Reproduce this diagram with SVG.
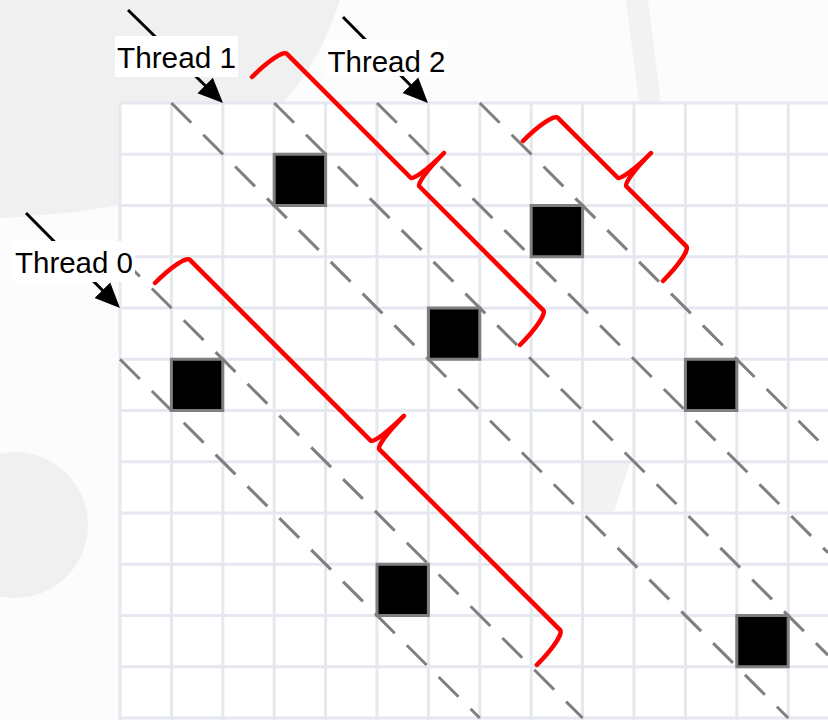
<svg xmlns="http://www.w3.org/2000/svg" width="828" height="720" viewBox="0 0 828 720">
  <style>
    .grid { stroke: #e5e8ee; stroke-width: 3; fill: none; }
    .band { stroke: #7f7f7f; stroke-width: 3; stroke-dasharray: 28 17; fill: none; }
    .sq { fill: #000000; stroke: #7f7f7f; stroke-width: 3; }
    .brace { stroke: #ff0000; stroke-width: 4.5; fill: none; stroke-linecap: round; stroke-linejoin: round; }
    .arrow { stroke: #000000; stroke-width: 3; fill: none; marker-end: url(#ah); }
    .lblbox { fill: #ffffff; }
    .lbl { font-family: "Liberation Sans", Arial, sans-serif; font-size: 29px; fill: #000000; }
  </style>
  <defs>
    <marker id="ah" markerUnits="userSpaceOnUse" markerWidth="26" markerHeight="26" viewBox="0 0 26 26" refX="5" refY="12.5" orient="auto">
      <path d="M0,1.5 L25,12.5 L0,23.5 Z" fill="#000000"/>
    </marker>
  </defs>

  <g id="background">
    <rect x="0" y="0" width="828" height="720" fill="#f0f0f0"/>
    <path d="M340,0 C328,38 310,72 283,103 C230,160 160,195 120,205 C80,212 40,216 0,218 L0,720 L828,720 L828,0 Z" fill="#fcfcfc"/>
    <polygon points="626,0 648,0 661,103 639,103" fill="#f2f2f2"/>
    <circle cx="15" cy="525" r="73" fill="#f0f0f0"/>
  </g>

  <g id="grid">
    <rect x="120" y="103" width="708" height="617" fill="#ffffff"/>
    <polygon points="583,463 630,463 614,511 583,511" fill="#f3f3f3"/>
    <path class="grid" d="M120,103 V720 M171.4,103 V720 M222.8,103 V720 M274.2,103 V720 M325.6,103 V720 M377,103 V720 M428.4,103 V720 M479.8,103 V720 M531.2,103 V720 M582.6,103 V720 M634,103 V720 M685.4,103 V720 M736.8,103 V720 M788.2,103 V720
      M120,103 H828 M120,154.25 H828 M120,205.5 H828 M120,256.75 H828 M120,308 H828 M120,359.25 H828 M120,410.5 H828 M120,461.75 H828 M120,513 H828 M120,564.25 H828 M120,615.5 H828 M120,666.75 H828 M120,718 H828"/>
  </g>

  <g id="bands">
    <line class="band" x1="120" y1="359.25" x2="479.8" y2="718"/>
    <line class="band" x1="120" y1="256.75" x2="582.6" y2="718"/>
    <line class="band" x1="171.4" y1="103" x2="788.2" y2="718"/>
    <line class="band" x1="274.2" y1="103" x2="828" y2="655.2"/>
    <line class="band" x1="377" y1="103" x2="828" y2="552.7"/>
    <line class="band" x1="479.8" y1="103" x2="828" y2="450.2"/>
  </g>

  <g id="squares">
    <g id="sq-3-1"><rect class="sq" x="274.2" y="154.25" width="51.4" height="51.25"/></g>
    <g id="sq-1-5"><rect class="sq" x="171.4" y="359.25" width="51.4" height="51.25"/></g>
    <g id="sq-8-2"><rect class="sq" x="531.2" y="205.5" width="51.4" height="51.25"/></g>
    <g id="sq-6-4"><rect class="sq" x="428.4" y="308" width="51.4" height="51.25"/></g>
    <g id="sq-11-5"><rect class="sq" x="685.4" y="359.25" width="51.4" height="51.25"/></g>
    <g id="sq-5-9"><rect class="sq" x="377" y="564.25" width="51.4" height="51.25"/></g>
    <g id="sq-12-10"><rect class="sq" x="736.8" y="615.5" width="51.4" height="51.25"/></g>
  </g>

  <g id="braces">
    <g id="brace-thread1" transform="translate(281,48) rotate(45)">
      <path class="brace" d="M0,41 A8,41 0 0 1 8,0 L183.5,0 A6,41 0 0 0 189.5,-41 A6,41 0 0 0 195.5,0 L371,0 A8,41 0 0 1 379,41"/>
    </g>
    <g id="brace-thread2" transform="translate(552,112) rotate(45)">
      <path class="brace" d="M0,41 A8,41 0 0 1 8,0 L93,0 A6,41 0 0 0 99,-41 A6,41 0 0 0 105,0 L190,0 A8,41 0 0 1 198,41"/>
    </g>
    <g id="brace-thread0" transform="translate(184,254) rotate(45)">
      <path class="brace" d="M0,41 A8,41 0 0 1 8,0 L264,0 A6,41 0 0 0 270,-41 A6,41 0 0 0 276,0 L532,0 A8,41 0 0 1 540,41"/>
    </g>
  </g>

  <g id="connectors">
    <line id="arrow-thread1" class="arrow" x1="128" y1="10" x2="208.7" y2="89"/>
    <line id="arrow-thread2" class="arrow" x1="343" y1="17" x2="413.9" y2="88.8"/>
    <line id="arrow-thread0" class="arrow" x1="26" y1="213" x2="105.9" y2="293.8"/>
  </g>

  <g id="thread1">
    <rect class="lblbox" x="115" y="36" width="123" height="41"/>
    <text class="lbl" x="117" y="68" textLength="119" lengthAdjust="spacingAndGlyphs">Thread 1</text>
  </g>
  <g id="thread2">
    <rect class="lblbox" x="325" y="39" width="122" height="37"/>
    <text class="lbl" x="327.5" y="72" textLength="118" lengthAdjust="spacingAndGlyphs">Thread 2</text>
  </g>
  <g id="thread0">
    <rect class="lblbox" x="13" y="241" width="122" height="41"/>
    <text class="lbl" x="15" y="273" textLength="118" lengthAdjust="spacingAndGlyphs">Thread 0</text>
  </g>
</svg>
